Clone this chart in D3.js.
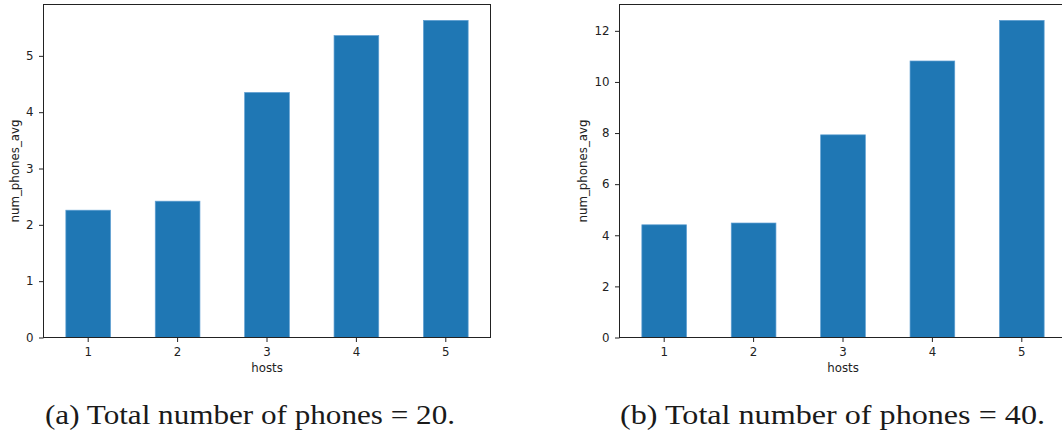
<!DOCTYPE html>
<html>
<head>
<meta charset="utf-8">
<script src="https://cdn.jsdelivr.net/npm/d3@7"></script>
<style>
  html, body { margin: 0; padding: 0; background: #fff; }
  svg { display: block; }
  .tick text { font-family: "DejaVu Sans", sans-serif; font-size: 11.8px; fill: #222; }
  .tick line { stroke: #222; stroke-width: 1; }
  .axis-label { font-family: "DejaVu Sans", sans-serif; font-size: 11.8px; fill: #222; }
  .caption { font-family: "Liberation Serif", "Times New Roman", serif; font-size: 28px; fill: #1a1a1a; }
</style>
</head>
<body>
<svg id="chart" width="1062" height="438"></svg>
<script>
// Average number of phones per host count, for two phone totals
const hosts = ["1", "2", "3", "4", "5"];
const phonesAvg20 = [2.26, 2.42, 4.35, 5.36, 5.63];
const phonesAvg40 = [4.41, 4.48, 7.93, 10.82, 12.41];
const yTicks20 = [0, 1, 2, 3, 4, 5];
const yTicks40 = [0, 2, 4, 6, 8, 10, 12];
const captions = ["(a) Total number of phones = 20.", "(b) Total number of phones = 40."];
const xLabel = "hosts";
const yLabel = "num_phones_avg";

const svg = d3.select("#chart");
const barColor = "#1f77b4";

function drawPanel(cfg) {
  const g = svg.append("g");
  const x = d3.scaleBand()
    .domain(hosts)
    .range([cfg.left, cfg.right])
    .paddingInner(0.5)
    .paddingOuter(0.25);
  const y = d3.scaleLinear()
    .domain([0, d3.max(cfg.values) * 1.05])
    .range([cfg.bottom, cfg.top]);

  // bars
  g.selectAll("rect.bar")
    .data(cfg.values)
    .join("rect")
    .attr("class", "bar")
    .attr("x", (d, i) => x(hosts[i]))
    .attr("width", x.bandwidth())
    .attr("y", d => y(d))
    .attr("height", d => y(0) - y(d))
    .attr("fill", barColor)
    .attr("stroke", "#5f9fd2")
    .attr("stroke-width", 0.7);

  // axes
  const xAxis = g.append("g")
    .attr("transform", `translate(0,${cfg.bottom})`)
    .call(d3.axisBottom(x).tickSize(4.5).tickPadding(5.5));
  xAxis.select(".domain").remove();

  const yAxis = g.append("g")
    .attr("transform", `translate(${cfg.left},0)`)
    .call(d3.axisLeft(y).tickValues(cfg.ticks).tickFormat(d3.format("d")).tickSize(4.5).tickPadding(5.5));
  yAxis.select(".domain").remove();

  // frame
  g.append("rect")
    .attr("x", cfg.left)
    .attr("y", cfg.top)
    .attr("width", cfg.right - cfg.left)
    .attr("height", cfg.bottom - cfg.top)
    .attr("fill", "none")
    .attr("stroke", "#222")
    .attr("stroke-width", 1);

  // axis titles
  g.append("text")
    .attr("class", "axis-label")
    .attr("x", (cfg.left + cfg.right) / 2)
    .attr("y", 372)
    .attr("text-anchor", "middle")
    .text(xLabel);

  g.append("text")
    .attr("class", "axis-label")
    .attr("transform", `translate(${cfg.yLabelX},${(cfg.top + cfg.bottom) / 2}) rotate(-90)`)
    .attr("text-anchor", "middle")
    .text(yLabel);

  // caption
  g.append("text")
    .attr("class", "caption")
    .attr("x", cfg.capX)
    .attr("y", 424)
    .attr("textLength", cfg.capW)
    .attr("lengthAdjust", "spacingAndGlyphs")
    .text(cfg.caption);
}

drawPanel({
  values: phonesAvg20, ticks: yTicks20, caption: captions[0],
  left: 43.5, right: 490.5, top: 4.5, bottom: 337.5,
  yLabelX: 18.5, capX: 45, capW: 410
});

drawPanel({
  values: phonesAvg40, ticks: yTicks40, caption: captions[1],
  left: 619.5, right: 1066.5, top: 4.5, bottom: 337.5,
  yLabelX: 586.5, capX: 620, capW: 425
});
</script>
</body>
</html>
